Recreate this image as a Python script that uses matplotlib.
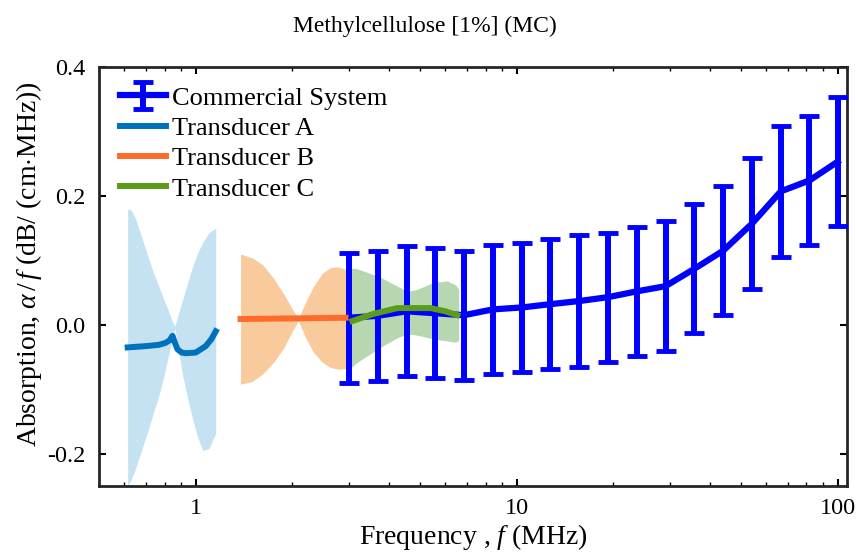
import matplotlib
matplotlib.use('Agg')
import matplotlib.pyplot as plt

plt.rcParams['font.family'] = 'Liberation Serif'
plt.rcParams['mathtext.fontset'] = 'custom'
plt.rcParams['mathtext.rm'] = 'Liberation Serif'
plt.rcParams['mathtext.it'] = 'Liberation Serif:italic'
plt.rcParams['axes.unicode_minus'] = False

# Commercial system (mean +/- error bars)
freq_cs = [3.0, 3.69, 4.54, 5.58, 6.86, 8.43, 10.4, 12.7, 15.7, 19.3, 23.7, 29.1,
           35.8, 44.0, 54.1, 66.5, 81.7, 100.0]
alpha_cs = [0.011, 0.014, 0.021, 0.018, 0.015, 0.024, 0.027, 0.032, 0.037, 0.043,
            0.052, 0.060, 0.087, 0.115, 0.157, 0.207, 0.224, 0.253]
err_cs = [0.101, 0.101, 0.101, 0.101, 0.100, 0.100, 0.100, 0.101, 0.102, 0.100,
          0.100, 0.101, 0.100, 0.100, 0.102, 0.101, 0.100, 0.100]

# Transducer A
freq_a = [0.614, 0.70, 0.768, 0.805, 0.83, 0.847, 0.862, 0.878, 0.905, 0.932, 1.0,
          1.075, 1.12, 1.155]
alpha_a = [-0.035, -0.033, -0.031, -0.028, -0.024, -0.017, -0.028, -0.038, -0.043,
           -0.044, -0.043, -0.033, -0.022, -0.010]
band_freq_a = [0.614, 0.63, 0.651, 0.68, 0.715, 0.74, 0.768, 0.80, 0.825, 0.845, 0.861,
               0.885, 0.912, 0.945, 0.979, 1.015, 1.052, 1.10, 1.155]
band_up_a = [0.180, 0.178, 0.164, 0.135, 0.102, 0.080, 0.060, 0.037, 0.020, 0.006, -0.002,
             0.018, 0.040, 0.066, 0.091, 0.112, 0.128, 0.143, 0.150]
band_lo_a = [-0.250, -0.240, -0.222, -0.193, -0.160, -0.135, -0.110, -0.075, -0.045, -0.022,
             -0.005, -0.040, -0.080, -0.115, -0.147, -0.175, -0.195, -0.192, -0.168]

# Transducer B
freq_b = [1.38, 2.0, 2.93]
alpha_b = [0.009, 0.010, 0.011]
band_freq_b = [1.38, 1.50, 1.62, 1.75, 1.88, 2.00, 2.09, 2.20, 2.33, 2.48, 2.63, 2.78, 2.93]
band_up_b = [0.110, 0.104, 0.093, 0.072, 0.048, 0.025, 0.010, 0.035, 0.060, 0.080, 0.089, 0.090, 0.086]
band_lo_b = [-0.092, -0.088, -0.076, -0.058, -0.036, -0.010, 0.006, -0.020, -0.043, -0.058, -0.066, -0.069, -0.068]

# Transducer C
freq_c = [3.08, 3.58, 4.25, 5.39, 6.0, 6.54]
alpha_c = [0.006, 0.017, 0.026, 0.026, 0.021, 0.015]
band_freq_c = [2.93, 3.19, 3.76, 4.25, 4.56, 4.90, 5.51, 6.09, 6.45, 6.6]
band_up_c = [0.089, 0.087, 0.074, 0.060, 0.052, 0.055, 0.066, 0.068, 0.062, 0.055]
band_lo_c = [-0.074, -0.058, -0.035, -0.020, -0.014, -0.016, -0.022, -0.025, -0.027, -0.024]

fig = plt.figure(figsize=(8.56, 5.56), dpi=100)
ax = fig.add_axes([0.1157, 0.1259, 0.8738, 0.7536])

# полосы разброса
ax.fill_between(band_freq_a, band_lo_a, band_up_a, color='#c5e2f2', lw=0, zorder=1)
ax.fill_between(band_freq_b, band_lo_b, band_up_b, color='#f9cb9c', lw=0, zorder=1)
ax.fill_between(band_freq_c, band_lo_c, band_up_c, color='#b6d7b0', lw=0, zorder=1)

h_cs = ax.errorbar(freq_cs, alpha_cs, yerr=err_cs, color='#0000ff', lw=4.5, elinewidth=4.3,
                   capsize=7, capthick=3.5, label='Commercial System', zorder=3)
h_a, = ax.plot(freq_a, alpha_a, color='#0072bd', lw=4.3, label='Transducer A', zorder=4)
h_b, = ax.plot(freq_b, alpha_b, color='#ff6b2b', lw=4.3, label='Transducer B', zorder=4)
h_c, = ax.plot(freq_c, alpha_c, color='#5b9c1a', lw=4.3, label='Transducer C', zorder=4)

ax.set_xscale('log')
ax.set_xlim(0.5, 107)
ax.set_ylim(-0.25, 0.4)
ax.set_yticks([-0.2, 0.0, 0.2, 0.4])
ax.set_yticklabels(['-0.2', '0.0', '0.2', '0.4'])
ax.set_xticks([1, 10, 100])
ax.set_xticklabels(['1', '10', '100'])
ax.tick_params(which='both', direction='in', top=True, right=True, labelsize=17.5)
ax.tick_params(axis='y', pad=10)
ax.tick_params(axis='x', pad=9)
ax.tick_params(which='major', length=5, width=1.5)
ax.tick_params(which='minor', length=3, width=1)
for s in ax.spines.values():
    s.set_linewidth(2)
    s.set_color('#262626')

fig.text(0.4965, 0.9424, 'Methylcellulose [1%] (MC)', fontsize=17, ha='center', va='baseline')
ax.set_xlabel(r'Frequency , $f$ (MHz)', fontsize=20, labelpad=2)
ax.set_ylabel(r'Absorption, $\alpha\,/\,f$ (dB/ (cm$\cdot$MHz))', fontsize=20, labelpad=4)
ax.yaxis.set_label_coords(-0.073, 0.53)

ax.legend([h_cs, h_a, h_b, h_c],
          ['Commercial System', 'Transducer A', 'Transducer B', 'Transducer C'],
          loc='upper left', bbox_to_anchor=(0.0053, 0.995), borderaxespad=0, borderpad=0.65,
          frameon=False, fontsize=19, handlelength=1.75, labelspacing=0.26,
          handletextpad=0.2)

fig.savefig('out.png', dpi=100)
